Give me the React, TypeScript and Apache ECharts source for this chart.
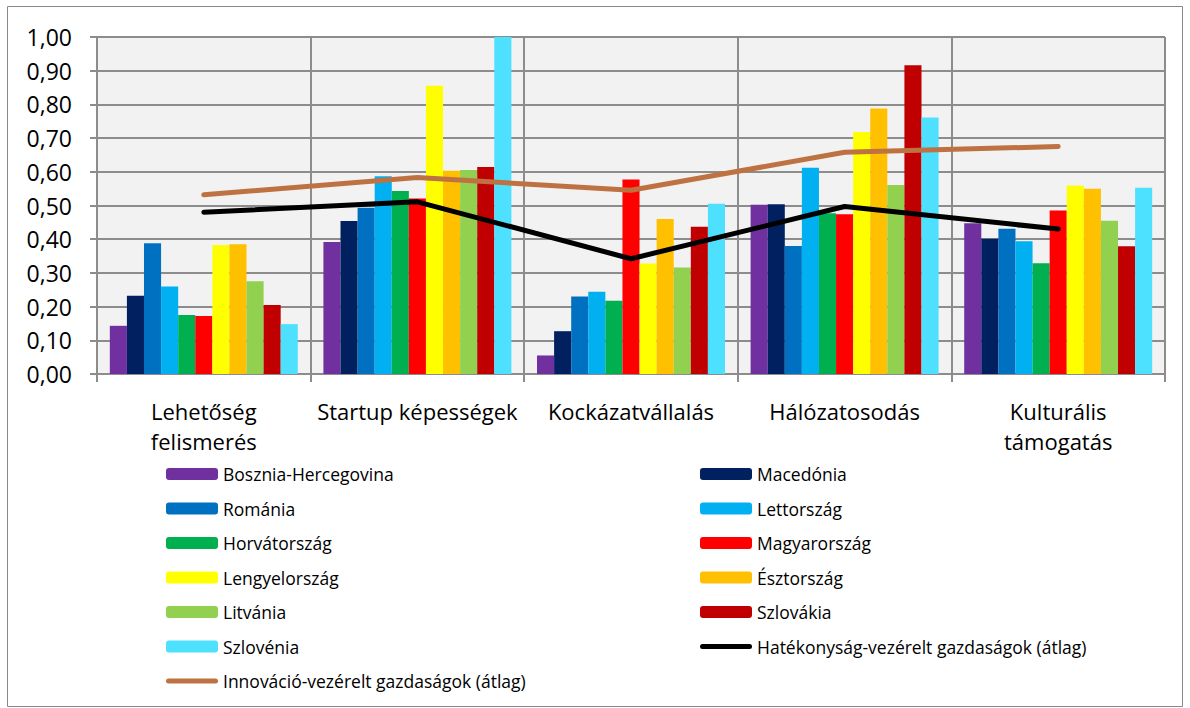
import React, { useEffect, useRef } from "react";
import * as echarts from "echarts";

const categories = [
  "Lehetőség\nfelismerés",
  "Startup képességek",
  "Kockázatvállalás",
  "Hálózatosodás",
  "Kulturális\ntámogatás",
];

const countries = [
  "Bosznia-Hercegovina",
  "Macedónia",
  "Románia",
  "Lettország",
  "Horvátország",
  "Magyarország",
  "Lengyelország",
  "Észtország",
  "Litvánia",
  "Szlovákia",
  "Szlovénia",
];

const countryColors = [
  "#7030A0",
  "#002060",
  "#0070C0",
  "#00B0F0",
  "#00B050",
  "#FF0000",
  "#FFFF00",
  "#FFC000",
  "#92D050",
  "#C00000",
  "#4DE0FF",
];

const bosznia = [0.143, 0.392, 0.055, 0.502, 0.447];
const macedonia = [0.232, 0.454, 0.127, 0.504, 0.401];
const romania = [0.388, 0.493, 0.23, 0.38, 0.431];
const lettorszag = [0.26, 0.587, 0.244, 0.612, 0.394];
const horvatorszag = [0.175, 0.543, 0.217, 0.477, 0.329];
const magyarorszag = [0.172, 0.521, 0.577, 0.474, 0.485];
const lengyelorszag = [0.383, 0.855, 0.328, 0.718, 0.559];
const esztorszag = [0.385, 0.603, 0.46, 0.788, 0.55];
const litvania = [0.275, 0.605, 0.316, 0.561, 0.455];
const szlovakia = [0.205, 0.614, 0.437, 0.916, 0.379];
const szlovenia = [0.148, 1.0, 0.505, 0.761, 0.553];

const countryValues = [
  bosznia,
  macedonia,
  romania,
  lettorszag,
  horvatorszag,
  magyarorszag,
  lengyelorszag,
  esztorszag,
  litvania,
  szlovakia,
  szlovenia,
];

const hatekonysagName = "Hatékonyság-vezérelt gazdaságok (átlag)";
const innovacioName = "Innováció-vezérelt gazdaságok (átlag)";
const hatekonysag = [0.48, 0.511, 0.342, 0.497, 0.43];
const innovacio = [0.532, 0.583, 0.545, 0.658, 0.675];

const LINE_ICON =
  "path://M2.5,0 L49.5,0 A2.5,2.5 0 0 1 49.5,5 L2.5,5 A2.5,2.5 0 0 1 2.5,0 Z";

const leftLegend = [
  "Bosznia-Hercegovina",
  "Románia",
  "Horvátország",
  "Lengyelország",
  "Litvánia",
  "Szlovénia",
  { name: innovacioName, icon: LINE_ICON },
];
const rightLegend = [
  "Macedónia",
  "Lettország",
  "Magyarország",
  "Észtország",
  "Szlovákia",
  { name: hatekonysagName, icon: LINE_ICON },
];

const FONT = "'Open Sans', 'Noto Sans', sans-serif";
const GRID_COLOR = "#8C8C8C";

export default function App() {
  const ref = useRef<HTMLDivElement>(null);

  useEffect(() => {
    document.body.style.margin = "0";
    if (!ref.current) return;
    const chart = echarts.init(ref.current, null, { renderer: "svg" });

    const barSeries = countries.map((name, i) => ({
      name,
      type: "bar",
      data: countryValues[i],
      barGap: "0%",
      barCategoryGap: "12%",
      itemStyle: { color: countryColors[i] },
      z: 2,
    }));

    const legendCommon = {
      orient: "vertical",
      itemWidth: 52,
      itemHeight: 12,
      itemGap: 14.5,
      textStyle: {
        fontFamily: FONT,
        fontSize: 17.5,
        color: "#000",
        lineHeight: 20,
      },
      padding: 0,
      selectedMode: false,
    };

    chart.setOption({
      animation: false,
      backgroundColor: "#fff",
      textStyle: { fontFamily: FONT },
      graphic: [
        {
          type: "rect",
          shape: { x: 7.5, y: 6.5, width: 1175, height: 700 },
          style: { fill: "none", stroke: "#898989", lineWidth: 1 },
          silent: true,
        },
      ],
      grid: { left: 97, right: 25, top: 37, bottom: 334, containLabel: false },
      legend: [
        { ...legendCommon, left: 166, top: 464, data: leftLegend },
        { ...legendCommon, left: 700, top: 464, data: rightLegend },
      ],
      xAxis: {
        type: "category",
        data: categories,
        boundaryGap: true,
        axisLine: { show: true, lineStyle: { color: GRID_COLOR, width: 2 } },
        axisTick: { show: true, length: 8, lineStyle: { color: GRID_COLOR, width: 2 } },
        splitLine: { show: true, lineStyle: { color: GRID_COLOR, width: 2 } },
        axisLabel: {
          color: "#000",
          fontFamily: FONT,
          fontSize: 22,
          lineHeight: 30,
          margin: 22,
          interval: 0,
        },
      },
      yAxis: {
        type: "value",
        min: 0,
        max: 1,
        interval: 0.1,
        axisLine: { show: true, lineStyle: { color: GRID_COLOR, width: 2 } },
        axisTick: { show: true, length: 7, lineStyle: { color: GRID_COLOR, width: 2 } },
        splitLine: { show: true, lineStyle: { color: GRID_COLOR, width: 2 } },
        splitArea: { show: true, areaStyle: { color: ["#F2F2F2", "#F2F2F2"] } },
        axisLabel: {
          color: "#000",
          fontFamily: FONT,
          fontSize: 23,
          margin: 25,
          formatter: (v: number) => v.toFixed(2).replace(".", ","),
        },
      },
      series: [
        ...barSeries,
        {
          name: hatekonysagName,
          type: "line",
          data: hatekonysag,
          symbol: "none",
          lineStyle: { color: "#000000", width: 5, cap: "round", join: "round" },
          itemStyle: { color: "#000000" },
          z: 5,
        },
        {
          name: innovacioName,
          type: "line",
          data: innovacio,
          symbol: "none",
          lineStyle: { color: "#BF7241", width: 5, cap: "round", join: "round" },
          itemStyle: { color: "#BF7241" },
          z: 5,
        },
      ],
    });

    return () => chart.dispose();
  }, []);

  return <div ref={ref} style={{ width: 1190, height: 708 }} />;
}
